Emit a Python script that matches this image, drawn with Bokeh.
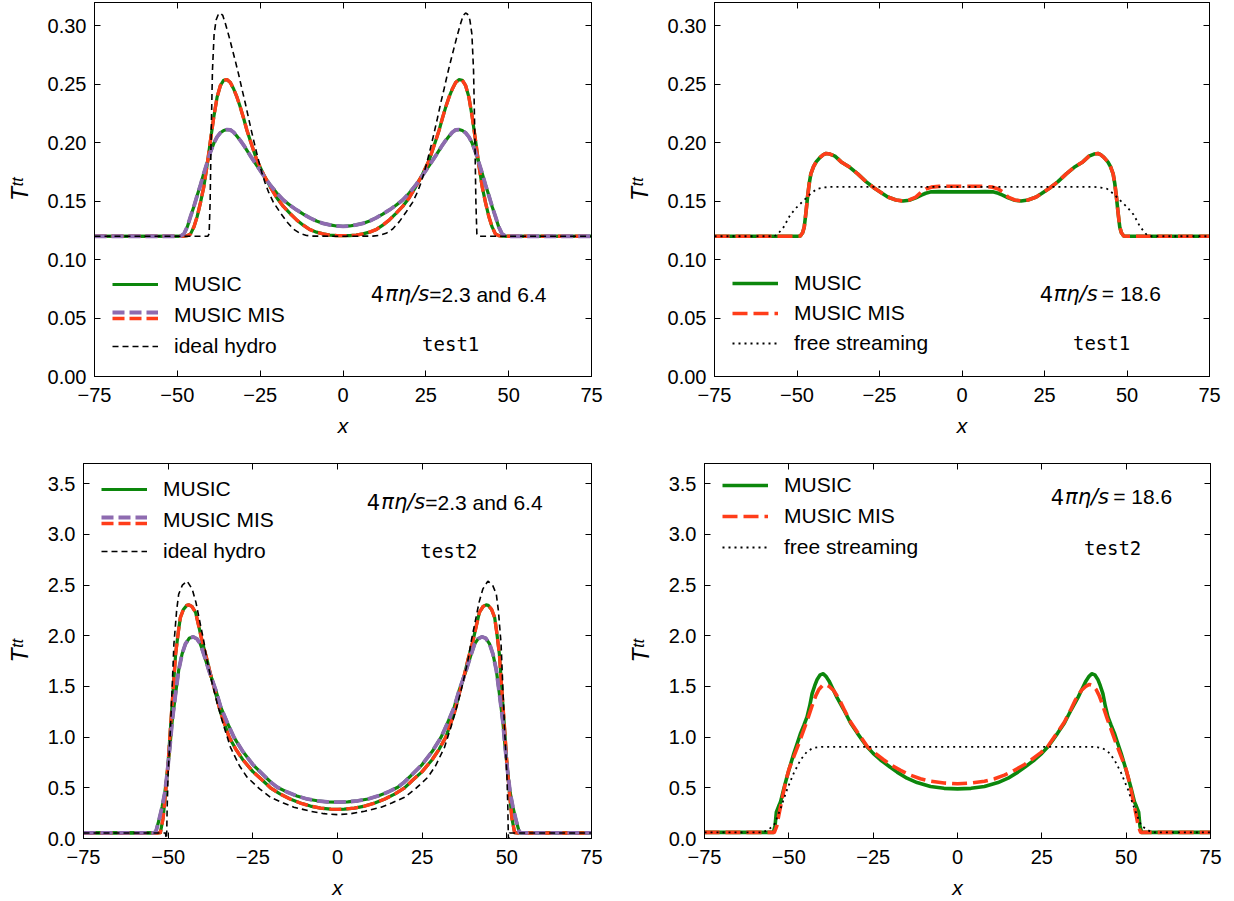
from bokeh.plotting import figure
from bokeh.models import (Range1d, FixedTicker, LinearAxis, NumeralTickFormatter,
                          Legend, LegendItem, Label)
from bokeh.layouts import row, column
from bokeh.embed import file_html
from bokeh.resources import INLINE

# ---------------- data ----------------
X_TICKS = [-75, -50, -25, 0, 25, 50, 75]
X_TICK_LABELS = ["\u221275", "\u221250", "\u221225", "0", "25", "50", "75"]
Y_TICKS_TEST1 = [0.0, 0.05, 0.10, 0.15, 0.20, 0.25, 0.30]
Y_TICKS_TEST2 = [0.0, 0.5, 1.0, 1.5, 2.0, 2.5, 3.0, 3.5]

# test1, 4 pi eta/s = 2.3 and 6.4
A_X_L = [-75, -50, -49, -48, -47, -46, -45, -44, -43, -42, -41, -40, -39, -38, -37, -36, -35, -34, -33, -32,
         -31, -30, -29, -28, -26, -24, -22, -20, -18, -16, -14, -12, -10, -8, -6, -4, -2, 0]
A_X_R = [2, 4, 6, 8, 10, 12, 14, 16, 18, 20, 22, 24, 26, 28, 29, 30, 31, 32, 33, 34, 35, 36, 37, 38, 39,
         40, 41, 42, 43, 44, 45, 46, 47, 48, 49, 50, 75]
A_V23_L = [0.120, 0.120, 0.120, 0.1201, 0.1205, 0.122, 0.128, 0.137, 0.149, 0.1625, 0.181, 0.202, 0.222,
           0.239, 0.249, 0.2535, 0.254, 0.2515, 0.246, 0.239, 0.2305, 0.221, 0.2107, 0.202, 0.185, 0.173,
           0.1625, 0.153, 0.1455, 0.1395, 0.134, 0.1295, 0.1257, 0.1235, 0.122, 0.121, 0.1206, 0.1205]
A_V23_R = [0.1206, 0.121, 0.122, 0.1235, 0.1257, 0.1295, 0.134, 0.1395, 0.1455, 0.153, 0.1625, 0.173,
           0.185, 0.202, 0.2107, 0.221, 0.2305, 0.239, 0.246, 0.2515, 0.254, 0.2535, 0.249, 0.239, 0.222,
           0.202, 0.181, 0.1625, 0.149, 0.137, 0.128, 0.122, 0.1205, 0.1201, 0.120, 0.120, 0.120]
A_V64_L = [0.120, 0.120, 0.1202, 0.122, 0.128, 0.137, 0.1455, 0.155, 0.164, 0.174, 0.183, 0.192, 0.1995,
           0.205, 0.2085, 0.2105, 0.2113, 0.211, 0.209, 0.2055, 0.202, 0.198, 0.1935, 0.189, 0.1805, 0.172,
           0.164, 0.157, 0.151, 0.1465, 0.1425, 0.139, 0.1357, 0.133, 0.131, 0.1297, 0.1288, 0.1285]
A_V64_R = [0.1288, 0.1297, 0.131, 0.133, 0.1357, 0.139, 0.1425, 0.1465, 0.151, 0.157, 0.164, 0.172,
           0.1805, 0.189, 0.1935, 0.198, 0.202, 0.2055, 0.209, 0.211, 0.2113, 0.2105, 0.2085, 0.205, 0.1995,
           0.192, 0.183, 0.174, 0.164, 0.155, 0.1455, 0.137, 0.128, 0.122, 0.1202, 0.120, 0.120]
A_XI_L = [-75, -40.8, -40.4, -40.1, -39.8, -39.4, -38.9, -38.3, -37.6, -37.0, -36.3, -35.5, -34.5, -33.5,
          -32.5, -31.5, -30.5, -29.5, -28.5, -27.5, -26.5, -25.5, -24.5, -23.5, -22.5, -21, -19, -17, -15,
          -13, -11, -9, 0]
A_XI_R = [9, 11, 13, 15, 17, 19, 21, 22.5, 23.5, 24.5, 25.5, 26.5, 27.5, 28.5, 29.5, 30.5, 31.5, 32.5,
          33.5, 34.5, 35.5, 36.3, 37.0, 37.6, 38.3, 38.9, 39.4, 39.8, 40.1, 40.4, 40.8, 75]
A_IDEAL_L = [0.120, 0.120, 0.122, 0.150, 0.205, 0.262, 0.293, 0.305, 0.310, 0.311, 0.309, 0.302, 0.292,
             0.281, 0.270, 0.2585, 0.246, 0.234, 0.221, 0.2085, 0.1965, 0.185, 0.1745, 0.1655, 0.158,
             0.149, 0.1405, 0.1325, 0.1262, 0.1225, 0.1207, 0.1201, 0.120]
A_IDEAL_R = [0.1201, 0.1207, 0.1225, 0.1262, 0.1325, 0.1405, 0.149, 0.158, 0.1655, 0.1745, 0.185, 0.1965,
             0.2085, 0.221, 0.234, 0.246, 0.2585, 0.270, 0.281, 0.292, 0.302, 0.309, 0.311, 0.310, 0.305,
             0.293, 0.262, 0.205, 0.150, 0.122, 0.120, 0.120]

# test1, 4 pi eta/s = 18.6
B_X_L = [-75, -50, -49, -48.3, -47.8, -47.3, -46.8, -46.3, -45.8, -45, -44.2, -43, -42, -41.2, -40, -38.5,
         -36.6, -34, -31.6, -29, -26.5, -24, -22.5, -20, -17.9, -16, -14, -12.3, -11, -9.3, -7, -4, 0]
B_X_R = [4, 7, 9.3, 11, 12.3, 14, 16, 17.9, 20, 22.5, 24, 26.5, 29, 31.6, 34, 36.6, 38.5, 40, 41.2, 42,
         43, 44.2, 45, 45.8, 46.3, 46.8, 47.3, 47.8, 48.3, 49, 50, 75]
B_MUSIC_L = [0.120, 0.120, 0.1202, 0.123, 0.128, 0.140, 0.1536, 0.165, 0.1734, 0.1795, 0.1836, 0.1875,
             0.1898, 0.1908, 0.1903, 0.1885, 0.1836, 0.179, 0.1734, 0.1665, 0.1611, 0.1563, 0.1536, 0.151,
             0.1502, 0.1508, 0.1528, 0.1552, 0.1568, 0.158, 0.1582, 0.158, 0.158]
B_MUSIC_R = [0.158, 0.1582, 0.158, 0.1568, 0.1552, 0.1528, 0.1508, 0.1502, 0.151, 0.1536, 0.1563, 0.1611,
             0.1665, 0.1734, 0.179, 0.1836, 0.1885, 0.1903, 0.1908, 0.1898, 0.1875, 0.1836, 0.1795, 0.1734,
             0.165, 0.1536, 0.140, 0.128, 0.123, 0.1202, 0.120, 0.120]
B_MIS_L = [0.120, 0.120, 0.1202, 0.123, 0.128, 0.140, 0.1536, 0.165, 0.1734, 0.1795, 0.1836, 0.1875,
           0.1898, 0.1908, 0.1903, 0.1885, 0.1836, 0.179, 0.1734, 0.1665, 0.1611, 0.1563, 0.1536, 0.151,
           0.1502, 0.151, 0.1535, 0.158, 0.1605, 0.162, 0.1627, 0.1628, 0.1628]
B_MIS_R = [0.1628, 0.1627, 0.162, 0.1605, 0.158, 0.1535, 0.151, 0.1502, 0.151, 0.1536, 0.1563, 0.1611,
           0.1665, 0.1734, 0.179, 0.1836, 0.1885, 0.1903, 0.1908, 0.1898, 0.1875, 0.1836, 0.1795, 0.1734,
           0.165, 0.1536, 0.140, 0.128, 0.123, 0.1202, 0.120, 0.120]
B_XF = [-75, -57, -56, -54, -52, -50, -48, -46, -44, -42, -40, 40, 42, 44, 46, 48, 50, 52, 54, 56, 57, 75]
B_FREE = [0.120, 0.120, 0.1212, 0.128, 0.1385, 0.145, 0.1505, 0.156, 0.1605, 0.1617, 0.1622, 0.1622,
          0.1617, 0.1605, 0.156, 0.1505, 0.145, 0.1385, 0.128, 0.1212, 0.120, 0.120]

# test2, 4 pi eta/s = 2.3 and 6.4
C_X23_L = [-75, -53, -52.3, -51.5, -50.8, -50, -49.3, -48.5, -47.8, -47, -46.4, -45.5, -44.5, -43.9, -43,
           -41.9, -41, -40, -38.5, -37.5, -36.5, -34.5, -32, -30, -28, -25, -22, -19.8, -17, -14, -11, -8,
           -5, -2, 0]
C_X23_R = [2, 5, 8, 11, 14, 17, 19.8, 22, 25, 28, 30, 32, 34.5, 36.5, 37.5, 38.5, 40, 41, 41.9, 43, 43.9,
           44.5, 45.5, 46.4, 47, 47.8, 48.5, 49.3, 50, 50.8, 51.5, 52.3, 53, 75]
C_V23_L = [0.055, 0.055, 0.058, 0.2, 0.44, 0.75, 1.10, 1.48, 1.82, 2.04, 2.18, 2.26, 2.30, 2.305, 2.29,
           2.23, 2.10, 1.95, 1.76, 1.62, 1.50, 1.24, 1.0, 0.88, 0.78, 0.66, 0.57, 0.5, 0.44, 0.39, 0.35,
           0.32, 0.30, 0.29, 0.287]
C_V23_R = [0.29, 0.30, 0.32, 0.35, 0.39, 0.44, 0.5, 0.57, 0.66, 0.78, 0.88, 1.0, 1.24, 1.50, 1.62, 1.76,
           1.95, 2.10, 2.23, 2.29, 2.305, 2.30, 2.26, 2.18, 2.04, 1.82, 1.48, 1.10, 0.75, 0.44, 0.2, 0.058,
           0.055, 0.055]
C_X64_L = [-75, -54.5, -53.7, -52.8, -51.8, -51, -50.3, -49.5, -48.8, -47.8, -46.9, -45.9, -44.9, -43.8,
           -42.6, -41.5, -40.5, -39.3, -38, -36, -34.5, -32.5, -30.6, -28, -25, -22, -19.5, -17.8, -15, -12,
           -9, -6, -3, 0]
C_X64_R = [3, 6, 9, 12, 15, 17.8, 19.5, 22, 25, 28, 30.6, 32.5, 34.5, 36, 38, 39.3, 40.5, 41.5, 42.6,
           43.8, 44.9, 45.9, 46.9, 47.8, 48.8, 49.5, 50.3, 51, 51.8, 52.8, 53.7, 54.5, 75]
C_V64_L = [0.055, 0.055, 0.06, 0.17, 0.31, 0.45, 0.64, 0.90, 1.16, 1.43, 1.66, 1.82, 1.92, 1.975, 1.99,
           1.97, 1.92, 1.80, 1.66, 1.47, 1.30, 1.14, 1.00, 0.86, 0.73, 0.63, 0.55, 0.506, 0.46, 0.42, 0.39,
           0.372, 0.362, 0.358]
C_V64_R = [0.362, 0.372, 0.39, 0.42, 0.46, 0.506, 0.55, 0.63, 0.73, 0.86, 1.00, 1.14, 1.30, 1.47, 1.66,
           1.80, 1.92, 1.97, 1.99, 1.975, 1.92, 1.82, 1.66, 1.43, 1.16, 0.90, 0.64, 0.45, 0.31, 0.17, 0.06,
           0.055, 0.055]
C_XI_L = [-75, -50.8, -50.6, -50.45, -50.3, -50, -49.3, -48.3, -47.5, -46.9, -45.8, -44.4, -42.9, -41.8,
          -40.9, -39.5, -38.5, -37, -35.5, -33.5, -31.6, -29, -26.7, -23, -19.8, -16, -12.9, -8, -4, 0]
C_XI_R = [4, 8, 12.9, 16, 19.8, 23, 26.7, 29, 31.6, 33.5, 35.5, 37, 38.5, 39.5, 40.9, 41.8, 42.9, 44.4,
          45.8, 46.9, 47.5, 48.3, 49.3, 50, 50.3, 50.45, 50.6, 50.8, 75]
C_IDEAL_L = [0.055, 0.055, 0.0, 0.0, 0.3, 0.65, 1.10, 1.92, 2.25, 2.41, 2.50, 2.54, 2.46, 2.33, 2.18,
             1.95, 1.755, 1.53, 1.33, 1.10, 0.90, 0.72, 0.605, 0.49, 0.407, 0.35, 0.309, 0.269, 0.245, 0.235]
C_IDEAL_R = [0.245, 0.269, 0.309, 0.35, 0.407, 0.49, 0.605, 0.72, 0.90, 1.10, 1.33, 1.53, 1.755, 1.95,
             2.18, 2.33, 2.46, 2.54, 2.50, 2.41, 2.25, 1.92, 1.10, 0.65, 0.3, 0.0, 0.0, 0.055, 0.055]

# test2, 4 pi eta/s = 18.6
D_XM_L = [-75, -54.6, -54.1, -53.7, -53, -52.5, -51.5, -50.5, -49.5, -48.5, -47.5, -46.5, -45.5, -44.6,
          -43.8, -43.1, -42.3, -41.6, -40.7, -39.8, -39, -38.1, -37, -35.7, -33.7, -31.7, -29.7, -27.8,
          -26.8, -25, -22.8, -20, -17.9, -15, -12, -8, -4, 0]
D_XM_R = [4, 8, 12, 15, 17.9, 20, 22.8, 25, 26.8, 27.8, 29.7, 31.7, 33.7, 35.7, 37, 38.1, 39, 39.8, 40.7,
          41.6, 42.3, 43.1, 43.8, 44.6, 45.5, 46.5, 47.5, 48.5, 49.5, 50.5, 51.5, 52.5, 53, 53.7, 54.1,
          54.6, 75]
D_MUSIC_L = [0.06, 0.06, 0.12, 0.26, 0.32, 0.357, 0.49, 0.615, 0.73, 0.84, 0.94, 1.04, 1.12, 1.2, 1.31,
             1.43, 1.51, 1.57, 1.615, 1.626, 1.60, 1.555, 1.48, 1.39, 1.27, 1.14, 1.04, 0.95, 0.905, 0.84,
             0.775, 0.705, 0.655, 0.595, 0.552, 0.513, 0.495, 0.49]
D_MUSIC_R = [0.495, 0.513, 0.552, 0.595, 0.655, 0.705, 0.775, 0.84, 0.905, 0.95, 1.04, 1.14, 1.27, 1.39,
             1.48, 1.555, 1.60, 1.626, 1.615, 1.57, 1.51, 1.43, 1.31, 1.2, 1.12, 1.04, 0.94, 0.84, 0.73,
             0.615, 0.49, 0.357, 0.32, 0.26, 0.12, 0.06, 0.06]
D_XR_L = [-75, -54.3, -53.6, -53, -52, -51, -50, -48.5, -47, -45.6, -44.3, -43.1, -42, -41.1, -40, -39.1,
          -38, -36.7, -35, -33.7, -31.7, -29.7, -27.8, -26.8, -24.8, -22, -19.9, -17, -13.9, -11, -8, -4, 0]
D_XR_R = [4, 8, 11, 13.9, 17, 19.9, 22, 24.8, 26.8, 27.8, 29.7, 31.7, 33.7, 35, 36.7, 38, 39.1, 40, 41.1,
          42, 43.1, 44.3, 45.6, 47, 48.5, 50, 51, 52, 53, 53.6, 54.3, 75]
D_MIS_L = [0.06, 0.06, 0.12, 0.226, 0.39, 0.55, 0.68, 0.81, 0.94, 1.07, 1.19, 1.31, 1.41, 1.47, 1.51,
           1.52, 1.50, 1.46, 1.37, 1.28, 1.15, 1.05, 0.96, 0.91, 0.85, 0.78, 0.73, 0.675, 0.625, 0.59,
           0.565, 0.547, 0.54]
D_MIS_R = [0.547, 0.565, 0.59, 0.625, 0.675, 0.73, 0.78, 0.85, 0.91, 0.96, 1.05, 1.15, 1.28, 1.37, 1.46,
           1.50, 1.52, 1.51, 1.47, 1.41, 1.31, 1.19, 1.07, 0.94, 0.81, 0.68, 0.55, 0.39, 0.226, 0.12, 0.06,
           0.06]
D_XF = [-75, -58, -57.4, -56, -54.4, -52.5, -50.5, -48.5, -46.5, -44.6, -43, -41.6, -40, 40, 41.6, 43,
        44.6, 46.5, 48.5, 50.5, 52.5, 54.4, 56, 57.4, 58, 75]
D_FREE = [0.06, 0.06, 0.065, 0.09, 0.13, 0.29, 0.486, 0.648, 0.777, 0.858, 0.89, 0.90, 0.905, 0.905, 0.90,
          0.89, 0.858, 0.777, 0.648, 0.486, 0.29, 0.13, 0.09, 0.065, 0.06, 0.06]

# ---------------- style ----------------
FONT = "Liberation Sans"
MONO = "DejaVu Sans Mono"
GREEN = "#0c870c"
RED = "#ff3d1a"
PURPLE = "#8e6bb0"
FS = "20px"
FS_TXT = "21px"


def style_axis(ax):
    ax.axis_line_color = "black"
    ax.axis_line_width = 1
    ax.major_tick_line_color = "black"
    ax.major_tick_in = 6
    ax.major_tick_out = 0
    ax.minor_tick_in = 0
    ax.minor_tick_out = 0
    ax.minor_tick_line_color = None


def panel(width, height, borders, ymax, yticks, yfmt):
    left, right, top, bottom = borders
    p = figure(width=width, height=height, x_range=Range1d(-75, 75), y_range=Range1d(0, ymax),
               output_backend="svg", toolbar_location=None, tools="",
               min_border_left=left, min_border_right=right,
               min_border_top=top, min_border_bottom=bottom)
    p.grid.visible = False
    p.outline_line_color = "black"
    p.outline_line_width = 1
    p.background_fill_color = "white"
    p.border_fill_color = "white"
    xa = p.xaxis[0]
    ya = p.yaxis[0]
    xa.ticker = FixedTicker(ticks=X_TICKS)
    xa.major_label_overrides = dict(zip(X_TICKS, X_TICK_LABELS))
    ya.ticker = FixedTicker(ticks=yticks)
    ya.formatter = NumeralTickFormatter(format=yfmt)
    for ax in (xa, ya):
        style_axis(ax)
        ax.major_label_text_font = FONT
        ax.major_label_text_font_size = FS
        ax.major_label_text_color = "black"
        ax.axis_label_text_font = FONT
        ax.axis_label_text_font_style = "italic"
        ax.axis_label_text_color = "black"
    xa.major_label_standoff = 11
    ya.major_label_standoff = 8
    xa.axis_label = "x"
    xa.axis_label_text_font_size = "21px"
    xa.axis_label_standoff = 9
    ya.axis_label = "T\u1d57\u1d57"
    ya.axis_label_text_font_size = "23px"
    ya.axis_label_standoff = 12
    top_ax = LinearAxis(ticker=FixedTicker(ticks=X_TICKS),
                        major_label_overrides={t: "" for t in X_TICKS},
                        major_label_text_font_size="0px", major_label_standoff=0)
    style_axis(top_ax)
    p.add_layout(top_ax, "above")
    right_ax = LinearAxis(ticker=FixedTicker(ticks=yticks),
                          major_label_overrides={t: "" for t in yticks},
                          major_label_text_font_size="0px", major_label_standoff=0)
    style_axis(right_ax)
    p.add_layout(right_ax, "right")
    return p


def make_legend(items, loc, spacing):
    return Legend(items=items, location=loc, orientation="vertical",
                  label_text_font=FONT, label_text_font_size=FS_TXT, label_text_color="black",
                  glyph_width=46, glyph_height=24, label_height=24, label_standoff=16,
                  spacing=spacing, padding=0, margin=0,
                  border_line_alpha=0, background_fill_alpha=0)


def add_texts(p, xsplit, xfour, yann, rest, xtest, ytest, testname):
    p.add_layout(Label(x=xfour, y=yann, text="4", text_align="right",
                       text_baseline="middle", text_font="DejaVu Sans",
                       text_font_size=FS_TXT, text_color="black"))
    p.add_layout(Label(x=xsplit, y=yann, text="\u03c0\u03b7/s", text_align="right",
                       text_baseline="middle", text_font="DejaVu Sans", text_font_style="italic",
                       text_font_size=FS_TXT, text_color="black"))
    p.add_layout(Label(x=xsplit, y=yann, text=rest, text_align="left", text_baseline="middle",
                       text_font=FONT, text_font_size=FS_TXT, text_color="black"))
    p.add_layout(Label(x=xtest, y=ytest, text=testname, text_align="center", text_baseline="middle",
                       text_font=MONO, text_font_size="19px", text_color="black"))


def viscous_pair_panel(p, xa23, va23, xa64, va64, xi, vi, legend_y, purple_y, red_y):
    g23 = p.line(xa23, va23, line_color=GREEN, line_width=3.2, line_join="round")
    g64 = p.line(xa64, va64, line_color=GREEN, line_width=3.2, line_join="round")
    r23 = p.line(xa23, va23, line_color=RED, line_width=3.4, line_dash="12 5", line_join="round")
    m64 = p.line(xa64, va64, line_color=PURPLE, line_width=3.8, line_dash="12 5", line_join="round")
    ideal = p.line(xi, vi, line_color="black", line_width=1.6, line_dash="6 4")
    ghost = p.line(x=[], y=[], line_alpha=0)
    main = make_legend([LegendItem(label="MUSIC", renderers=[g23]),
                        LegendItem(label="MUSIC MIS", renderers=[ghost]),
                        LegendItem(label="ideal hydro", renderers=[ideal])], (18, legend_y), 7)
    lp = make_legend([LegendItem(label="\u00a0", renderers=[m64])], (18, purple_y), 0)
    lr = make_legend([LegendItem(label="\u00a0", renderers=[r23])], (18, red_y), 0)
    p.add_layout(main)
    p.add_layout(lp)
    p.add_layout(lr)


def high_visc_panel(p, xm, vm, xr, vr, xf, vf, legend_y, spacing):
    g = p.line(xm, vm, line_color=GREEN, line_width=3.6, line_join="round")
    r = p.line(xr, vr, line_color=RED, line_width=3.6, line_dash="15 6", line_join="round")
    f = p.line(xf, vf, line_color="black", line_width=1.8, line_dash="2 4")
    main = make_legend([LegendItem(label="MUSIC", renderers=[g]),
                        LegendItem(label="MUSIC MIS", renderers=[r]),
                        LegendItem(label="free streaming", renderers=[f])], (18, legend_y), spacing)
    p.add_layout(main)


# top-left
p1 = panel(617, 450, (94, 26, 2, 73), 0.32, Y_TICKS_TEST1, "0.00")
viscous_pair_panel(p1, A_X_L + A_X_R, A_V23_L + A_V23_R, A_X_L + A_X_R, A_V64_L + A_V64_R,
                   A_XI_L + A_XI_R, A_IDEAL_L + A_IDEAL_R, 18, 52.3, 45.7)
add_texts(p1, 26.0, 12.4, 0.0705, "=2.3 and 6.4", 32.5, 0.028, "test1")

# top-right
p2 = panel(617, 450, (97, 25, 2, 74), 0.32, Y_TICKS_TEST1, "0.00")
high_visc_panel(p2, B_X_L + B_X_R, B_MUSIC_L + B_MUSIC_R, B_X_L + B_X_R, B_MIS_L + B_MIS_R,
                B_XF, B_FREE, 21, 6)
add_texts(p2, 41.1, 27.6, 0.071, "\u2009= 18.6", 42.3, 0.029, "test1")

# bottom-left
p3 = panel(617, 451, (83, 26, 13, 63), 3.7, Y_TICKS_TEST2, "0.0")
viscous_pair_panel(p3, C_X23_L + C_X23_R, C_V23_L + C_V23_R, C_X64_L + C_X64_R, C_V64_L + C_V64_R,
                   C_XI_L + C_XI_R, C_IDEAL_L + C_IDEAL_R, 274.7, 309.3, 303.3)
add_texts(p3, 25.9, 12.6, 3.32, "=2.3 and 6.4", 32.9, 2.84, "test2")

# bottom-right
p4 = panel(617, 451, (87, 24, 9, 61), 3.7, Y_TICKS_TEST2, "0.0")
high_visc_panel(p4, D_XM_L + D_XM_R, D_MUSIC_L + D_MUSIC_R, D_XR_L + D_XR_R, D_MIS_L + D_MIS_R,
                D_XF, D_FREE, 278.7, 7)
add_texts(p4, 44.9, 31.6, 3.37, "\u2009= 18.6", 46.0, 2.87, "test2")

layout = column(row(p1, p2, spacing=0), row(p3, p4, spacing=0), spacing=0)
open("out.html", "w").write(file_html(layout, INLINE))
